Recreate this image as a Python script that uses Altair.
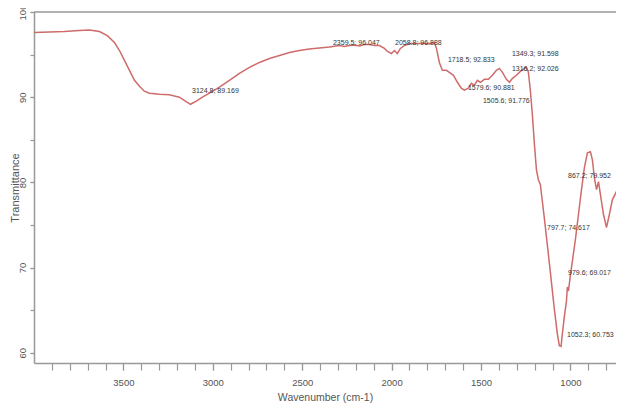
import altair as alt
import pandas as pd

# FTIR spectrum (wavenumber cm-1, transmittance %)
wavenumber = [3998, 3914, 3830, 3746, 3690, 3634, 3590, 3550, 3522, 3494, 3466, 3438,
              3410, 3383, 3355, 3299, 3243, 3187, 3153, 3124.8, 3092, 3058, 3019, 2963,
              2907, 2851, 2795, 2739, 2683, 2627, 2571, 2516, 2460, 2404, 2348, 2292,
              2264, 2236, 2208, 2180, 2152, 2124, 2096, 2068, 2040, 2023, 2001, 1984,
              1968, 1951, 1928, 1900, 1845, 1789, 1761, 1749, 1733, 1716, 1694, 1677,
              1654, 1632, 1610, 1593, 1571, 1554, 1537, 1520, 1503, 1481, 1459, 1436,
              1414, 1397, 1380, 1358, 1341, 1324, 1302, 1280, 1257, 1246, 1235, 1224,
              1212.5, 1201, 1190, 1179, 1168, 1145, 1117, 1090, 1073, 1062, 1052.3, 1045,
              1034, 1022, 1017, 1011, 1000, 989, 972, 955, 938, 922, 905, 888,
              877, 866, 854, 843, 832, 815, 798, 782, 765, 737, 704]
transmittance = [97.58, 97.64, 97.70, 97.82, 97.88, 97.70, 97.23, 96.42, 95.48, 94.32, 93.15, 91.98,
                 91.28, 90.70, 90.47, 90.35, 90.29, 90.00, 89.53, 89.169, 89.53, 90.00, 90.47, 91.17,
                 91.98, 92.80, 93.50, 94.08, 94.55, 94.90, 95.25, 95.48, 95.66, 95.78, 95.89, 96.07,
                 95.95, 96.07, 96.13, 96.01, 96.18, 96.18, 96.07, 96.07, 95.72, 95.37, 95.13, 95.48,
                 95.13, 95.72, 96.07, 96.30, 96.30, 96.30, 96.42, 95.72, 94.08, 93.15, 93.15, 92.92,
                 92.57, 91.75, 91.05, 90.82, 91.05, 91.63, 91.40, 91.98, 91.75, 92.10, 92.10, 92.57,
                 93.15, 93.38, 92.92, 92.10, 91.75, 92.22, 92.57, 93.03, 93.38, 93.50, 92.92, 90.82,
                 87.90, 84.40, 81.48, 80.31, 79.73, 75.65, 70.40, 65.15, 62.23, 60.83, 60.753, 62.23,
                 64.22, 66.09, 67.72, 67.25, 69.12, 70.75, 73.32, 76.23, 79.15, 81.71, 83.47, 83.59,
                 82.65, 80.55, 79.15, 80.08, 78.56, 76.23, 74.71, 76.23, 77.98, 79.15, 80.32]

# Peak annotations
ann_text = ["3124.8; 89.169", "2359.5; 96.047", "2058.8; 96.888", "1718.5; 92.833",
            "1349.3; 91.598", "1316.2; 92.026", "1579.6; 90.881", "1505.6; 91.776",
            "867.2; 79.952", "797.7; 74.617", "979.6; 69.017", "1052.3; 60.753"]
ann_x = [3116, 2328, 1981, 1685, 1327, 1327, 1573, 1489, 1013, 1131, 1013, 1019]
ann_y = [90.73, 96.36, 96.36, 94.37, 95.07, 93.31, 91.09, 89.56, 80.76, 74.66, 69.39, 62.11]

x_minor = list(range(800, 4000, 100))
x_major = [3500, 3000, 2500, 2000, 1500, 1000]
y_minor = [60, 65, 70, 75, 80, 85, 90, 95, 100]
y_major = [60, 70, 80, 90, 100]

spec = pd.DataFrame({"wn": wavenumber, "t": transmittance})
ann = pd.DataFrame({"wn": ann_x, "t": ann_y, "label": ann_text})

FONT = "Liberation Sans"
x_scale = alt.Scale(domain=[4000, 745], nice=False, zero=False)
y_scale = alt.Scale(domain=[58.8, 100], nice=False, zero=False)

# layer 1: curve, carries minor ticks + domain lines
line = alt.Chart(spec).mark_line(color="#cf6b6b", strokeWidth=1.5, clip=True).encode(
    x=alt.X("wn:Q", scale=x_scale, axis=alt.Axis(
        orient="bottom", values=x_minor, labels=False, title=None, tickSize=7,
        grid=False, domain=True)),
    y=alt.Y("t:Q", scale=y_scale, axis=alt.Axis(
        orient="left", values=y_minor, labels=False, title=None, tickSize=4,
        grid=False, domain=True)),
)

# layer 2: annotations, carries labelled major axes
labels = alt.Chart(ann).mark_text(
    align="left", baseline="middle", fontSize=7, color="#333333", font=FONT, clip=True
).encode(
    x=alt.X("wn:Q", scale=x_scale, axis=alt.Axis(
        orient="bottom", values=x_major, format="d", title="Wavenumber (cm-1)",
        tickSize=7, labelPadding=7, labelFontSize=9.5, titleFontSize=10.5,
        titleFontWeight="normal", titleY=34, titleBaseline="middle",
        grid=False, domain=False, labelFlush=False, labelOverlap=False)),
    y=alt.Y("t:Q", scale=y_scale, axis=alt.Axis(
        orient="left", values=y_major, title="Transmittance",
        labelAngle=270, labelAlign="center", labelBaseline="bottom",
        tickSize=4, labelPadding=3, labelFontSize=9.5, titleFontSize=11,
        titleFontWeight="normal", titleAngle=270, titleX=-19, titleY=175.5,
        titleAlign="center", titleBaseline="middle", grid=False, domain=False,
        labelOverlap=False, labelFlush=False)),
    text="label:N",
)

top = alt.Chart(pd.DataFrame({"t": [100]})).mark_rule(color="#999999", strokeWidth=1.5).encode(
    y=alt.Y("t:Q", scale=y_scale, axis=None)
)

chart = (
    alt.layer(line, labels, top)
    .resolve_axis(x="independent", y="independent")
    .properties(
        width=582,
        height=351,
        autosize=alt.AutoSizeParams(type="none"),
        padding={"left": 26, "top": 4, "right": 0, "bottom": 41},
        background="white",
    )
    .configure_view(stroke=None)
    .configure_axis(
        domainColor="#999999",
        domainWidth=1.5,
        tickColor="#999999",
        tickWidth=1.2,
        labelColor="#555555",
        titleColor="#555555",
        labelFont=FONT,
        titleFont=FONT,
    )
)

chart.save("out.html", embed_options={"renderer": "svg", "actions": False})
